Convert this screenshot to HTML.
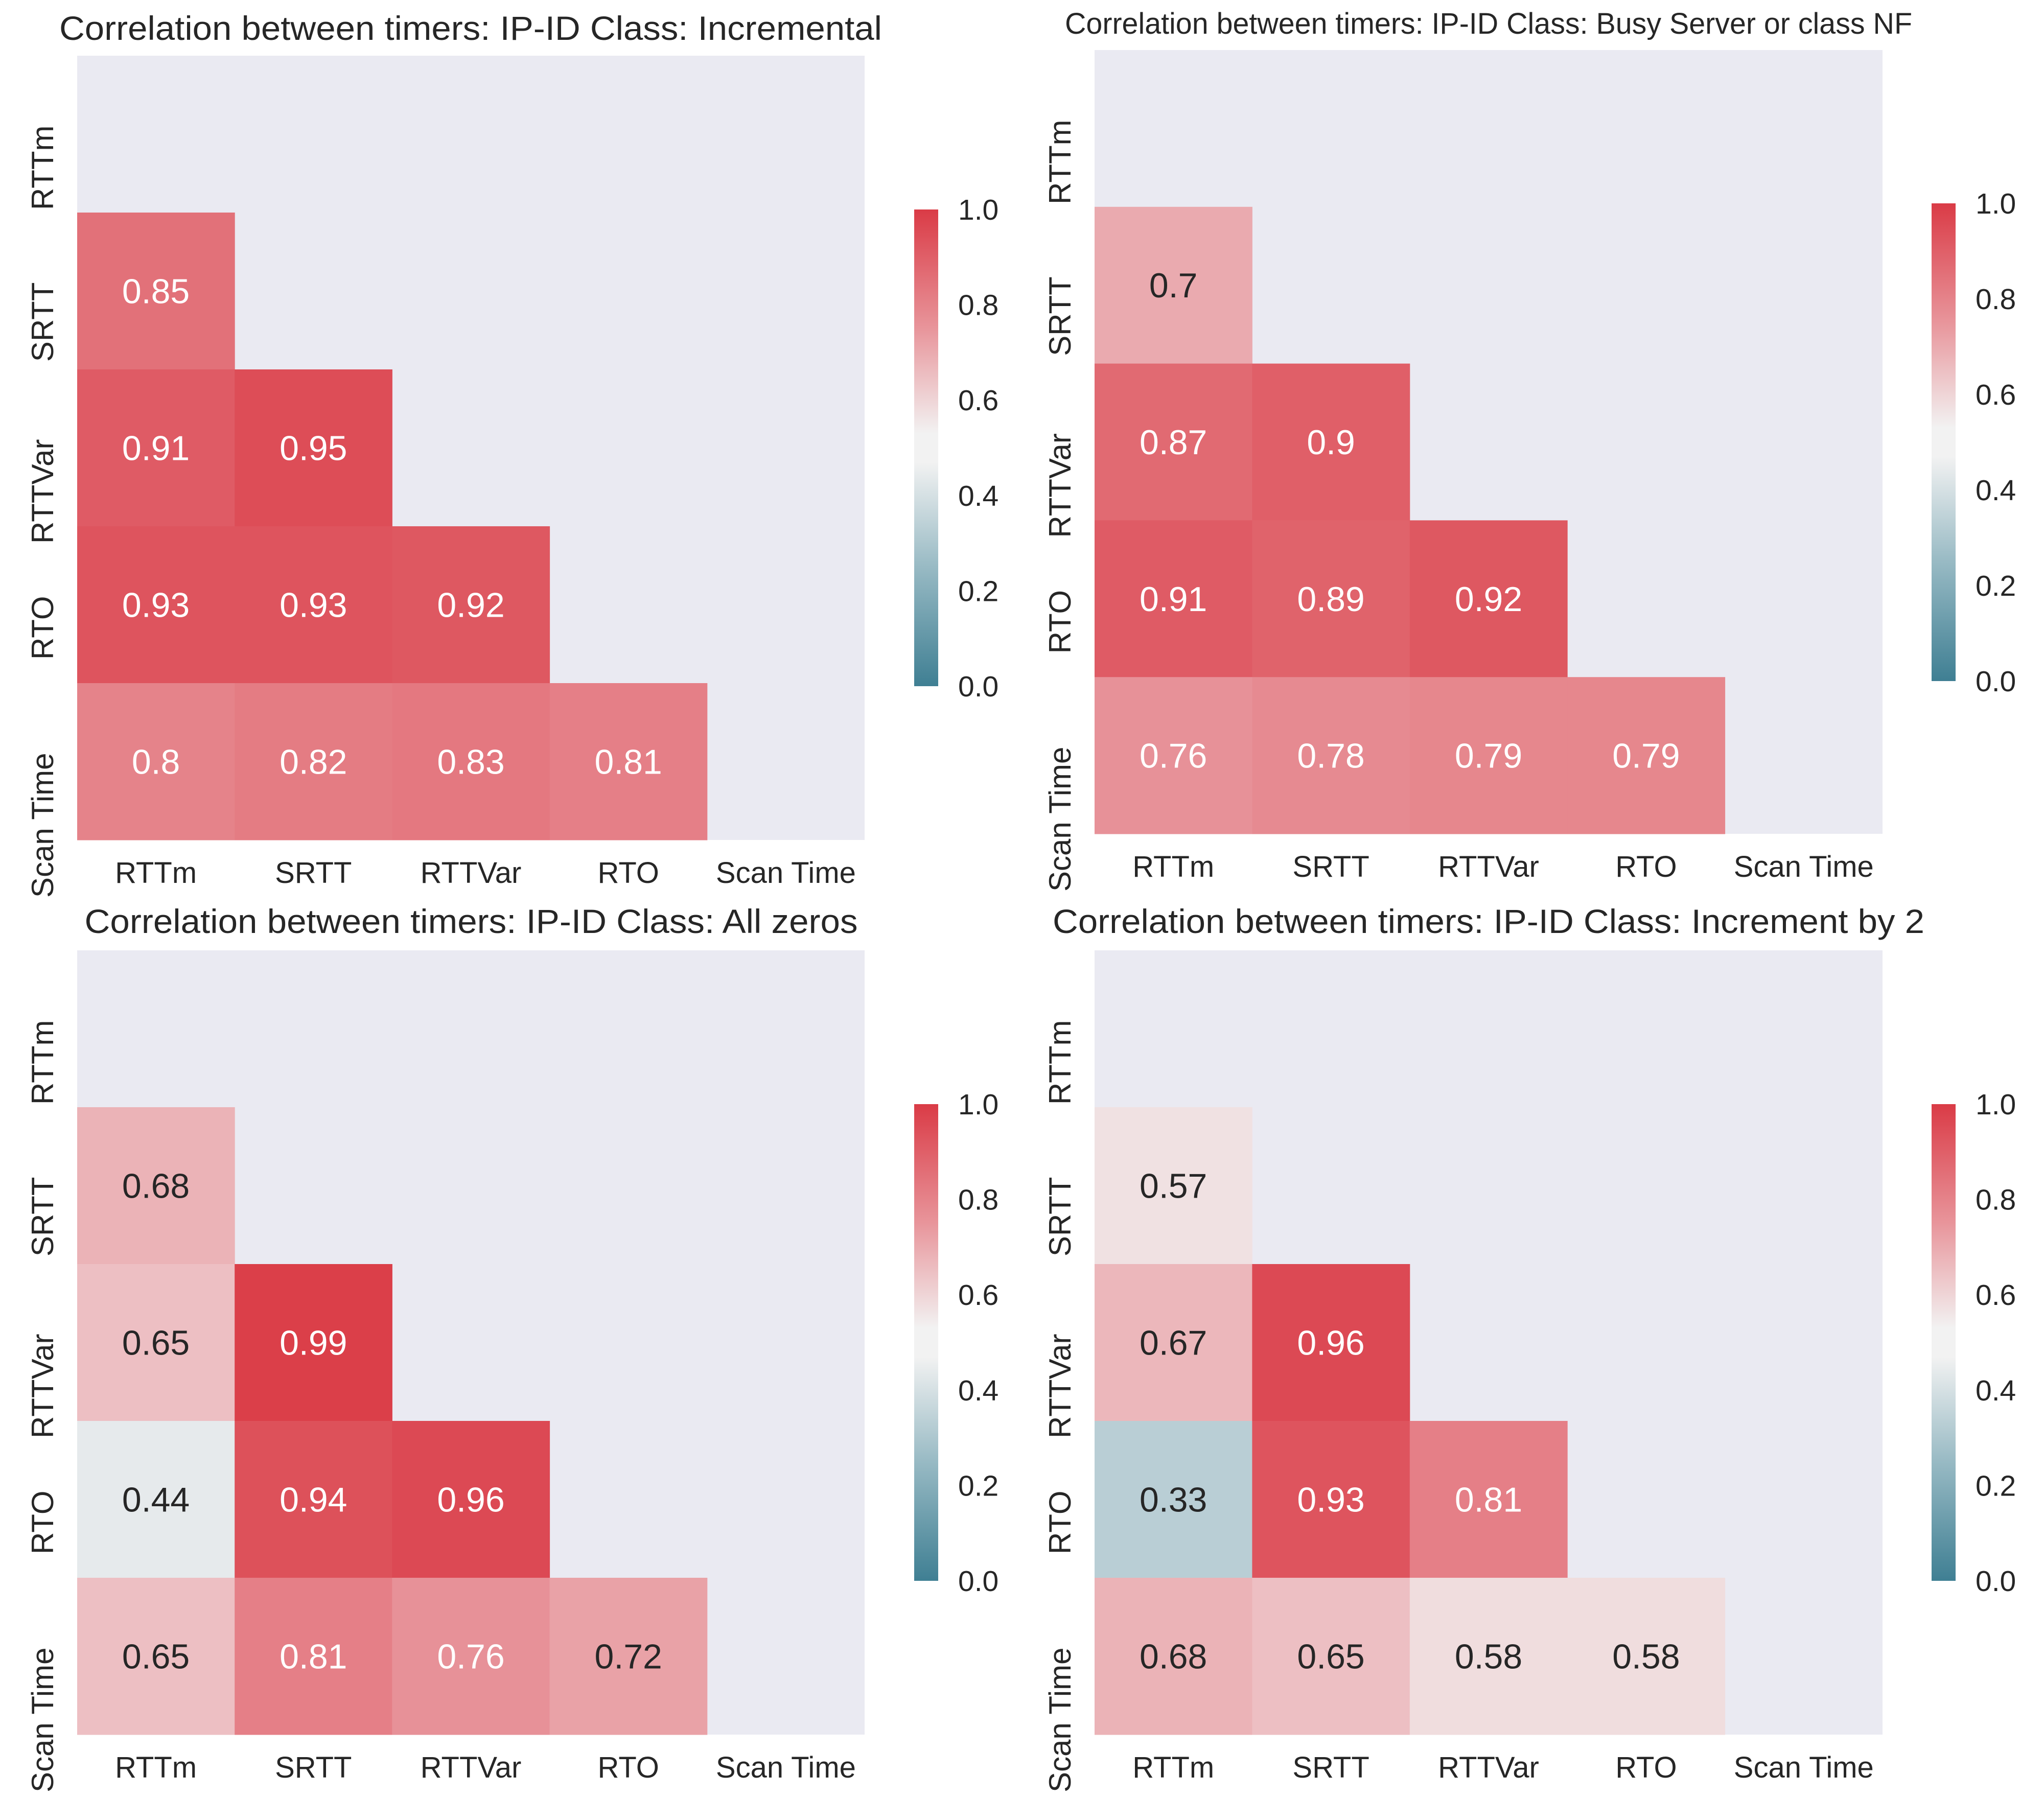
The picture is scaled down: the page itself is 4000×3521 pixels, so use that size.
<!DOCTYPE html>
<html><head><meta charset="utf-8"><style>
html,body{margin:0;padding:0;background:#fff;}
svg{display:block;font-family:"Liberation Sans",Arial,sans-serif;}
</style></head><body>
<svg id="fig" width="4000" height="3521" viewBox="0 0 4000 3521" xmlns="http://www.w3.org/2000/svg">
<defs>
<linearGradient id="cmapGrad" x1="0" y1="1" x2="0" y2="0">
<stop offset="0" stop-color="#3f7f93"/>
<stop offset="0.25" stop-color="#98bac4"/>
<stop offset="0.47" stop-color="#f2f2f2"/>
<stop offset="0.53" stop-color="#f2f2f2"/>
<stop offset="0.75" stop-color="#e8959b"/>
<stop offset="1" stop-color="#da3b46"/>
</linearGradient>
</defs>
</svg>
<script>
const labels = ["RTTm","SRTT","RTTVar","RTO","Scan Time"];
const titles = [
  "Correlation between timers: IP-ID Class: Incremental",
  "Correlation between timers: IP-ID Class: Busy Server or class NF",
  "Correlation between timers: IP-ID Class: All zeros",
  "Correlation between timers: IP-ID Class: Increment by 2"
];
const valsIncremental = [[0.85],[0.91,0.95],[0.93,0.93,0.92],[0.8,0.82,0.83,0.81]];
const valsBusy = [[0.7],[0.87,0.9],[0.91,0.89,0.92],[0.76,0.78,0.79,0.79]];
const valsZeros = [[0.68],[0.65,0.99],[0.44,0.94,0.96],[0.65,0.81,0.76,0.72]];
const valsInc2 = [[0.57],[0.67,0.96],[0.33,0.93,0.81],[0.68,0.65,0.58,0.58]];
const cbarTicks = [0.0,0.2,0.4,0.6,0.8,1.0];

const NS="http://www.w3.org/2000/svg";
const svg=document.getElementById('fig');
function el(tag,attrs,parent){const e=document.createElementNS(NS,tag);for(const k in attrs)e.setAttribute(k,attrs[k]);(parent||svg).appendChild(e);return e;}
const stops=[[0,[63,127,147]],[0.25,[152,186,196]],[0.47,[242,242,242]],[0.53,[242,242,242]],[0.75,[232,149,155]],[1,[218,59,70]]];
function cmap(v){v=Math.max(0,Math.min(1,v));for(let i=1;i<stops.length;i++){if(v<=stops[i][0]){const a=stops[i-1],b=stops[i];const t=(v-a[0])/(b[0]-a[0]);return a[1].map((c,j)=>Math.round(c+(b[1][j]-c)*t));}}return stops[stops.length-1][1];}
function lum(c){const f=x=>{x/=255;return x<=0.03928?x/12.92:Math.pow((x+0.055)/1.055,2.4)};return 0.2126*f(c[0])+0.7152*f(c[1])+0.0722*f(c[2]);}

const panels=[
 {vals:valsIncremental,title:titles[0],L:151,R:1692,T:109,B:1644,tx:921,ty:78,tfs:66,tw:1610,cbx:1789,cbT:410,cbB:1343,ylx:83,key:'incremental'},
 {vals:valsBusy,title:titles[1],L:2142,R:3684,T:98,B:1632,tx:2913,ty:66,tfs:58,tw:1658,cbx:3780,cbT:398,cbB:1333,ylx:2074,key:'busy-server'},
 {vals:valsZeros,title:titles[2],L:151,R:1692,T:1860,B:3395,tx:922,ty:1826,tfs:66,tw:1513,cbx:1789,cbT:2161,cbB:3094,ylx:83,key:'all-zeros'},
 {vals:valsInc2,title:titles[3],L:2142,R:3684,T:1860,B:3395,tx:2913,ty:1826,tfs:66,tw:1706,cbx:3780,cbT:2161,cbB:3094,ylx:2074,key:'increment-by-2'}
];

panels.forEach(p=>{
  const g=el('g',{});
  
  
  const bg=el('rect',{x:p.L,y:p.T,width:p.R-p.L,height:p.B-p.T,fill:'#eaeaf2'},g);
  
  
  const cw=(p.R-p.L)/5, ch=(p.B-p.T)/5;
  const xs=i=>p.L+i*cw, ys=j=>p.T+j*ch;
  p.vals.forEach((row,r)=>{
    row.forEach((v,c)=>{
      const col=cmap(v);
      const j=r+1;
      const rc=el('rect',{x:xs(c),y:ys(j),width:cw+0.5,height:ch+0.5,fill:`rgb(${col.join(',')})`},g);
      
      
      const t=el('text',{x:xs(c)+cw/2,y:ys(j)+ch/2+24,'text-anchor':'middle','font-size':68,fill:lum(col)>0.408?'#262626':'#ffffff'},g);
      t.textContent=String(v);
      
      
    });
  });
  labels.forEach((lab,i)=>{
    const xt=el('text',{x:xs(i)+cw/2,y:p.B+84,'text-anchor':'middle','font-size':58,fill:'#262626'},g);
    xt.textContent=lab;
    
    
    const ay=ys(i)+ch/2-17, ax=p.ylx+21;
    const yt=el('text',{x:ax,y:ay,'text-anchor':'end','font-size':60,fill:'#262626',transform:`rotate(-90 ${ax} ${ay})`},g);
    yt.textContent=lab;
    
    
  });
  const tt=el('text',{x:p.tx,y:p.ty,'text-anchor':'middle','font-size':p.tfs,fill:'#262626',textLength:p.tw,lengthAdjust:'spacingAndGlyphs'},g);
  tt.textContent=p.title;
  
  
  const cb=el('rect',{x:p.cbx,y:p.cbT,width:47,height:p.cbB-p.cbT,fill:'url(#cmapGrad)'},g);
  
  
  const cbs=v=>p.cbB-(p.cbB-p.cbT)*v;
  cbarTicks.forEach(v=>{
    const ct=el('text',{x:p.cbx+86,y:cbs(v)+20,'font-size':57,fill:'#262626'},g);
    ct.textContent=v.toFixed(1);
    
    
  });
});
</script>
</body></html>
